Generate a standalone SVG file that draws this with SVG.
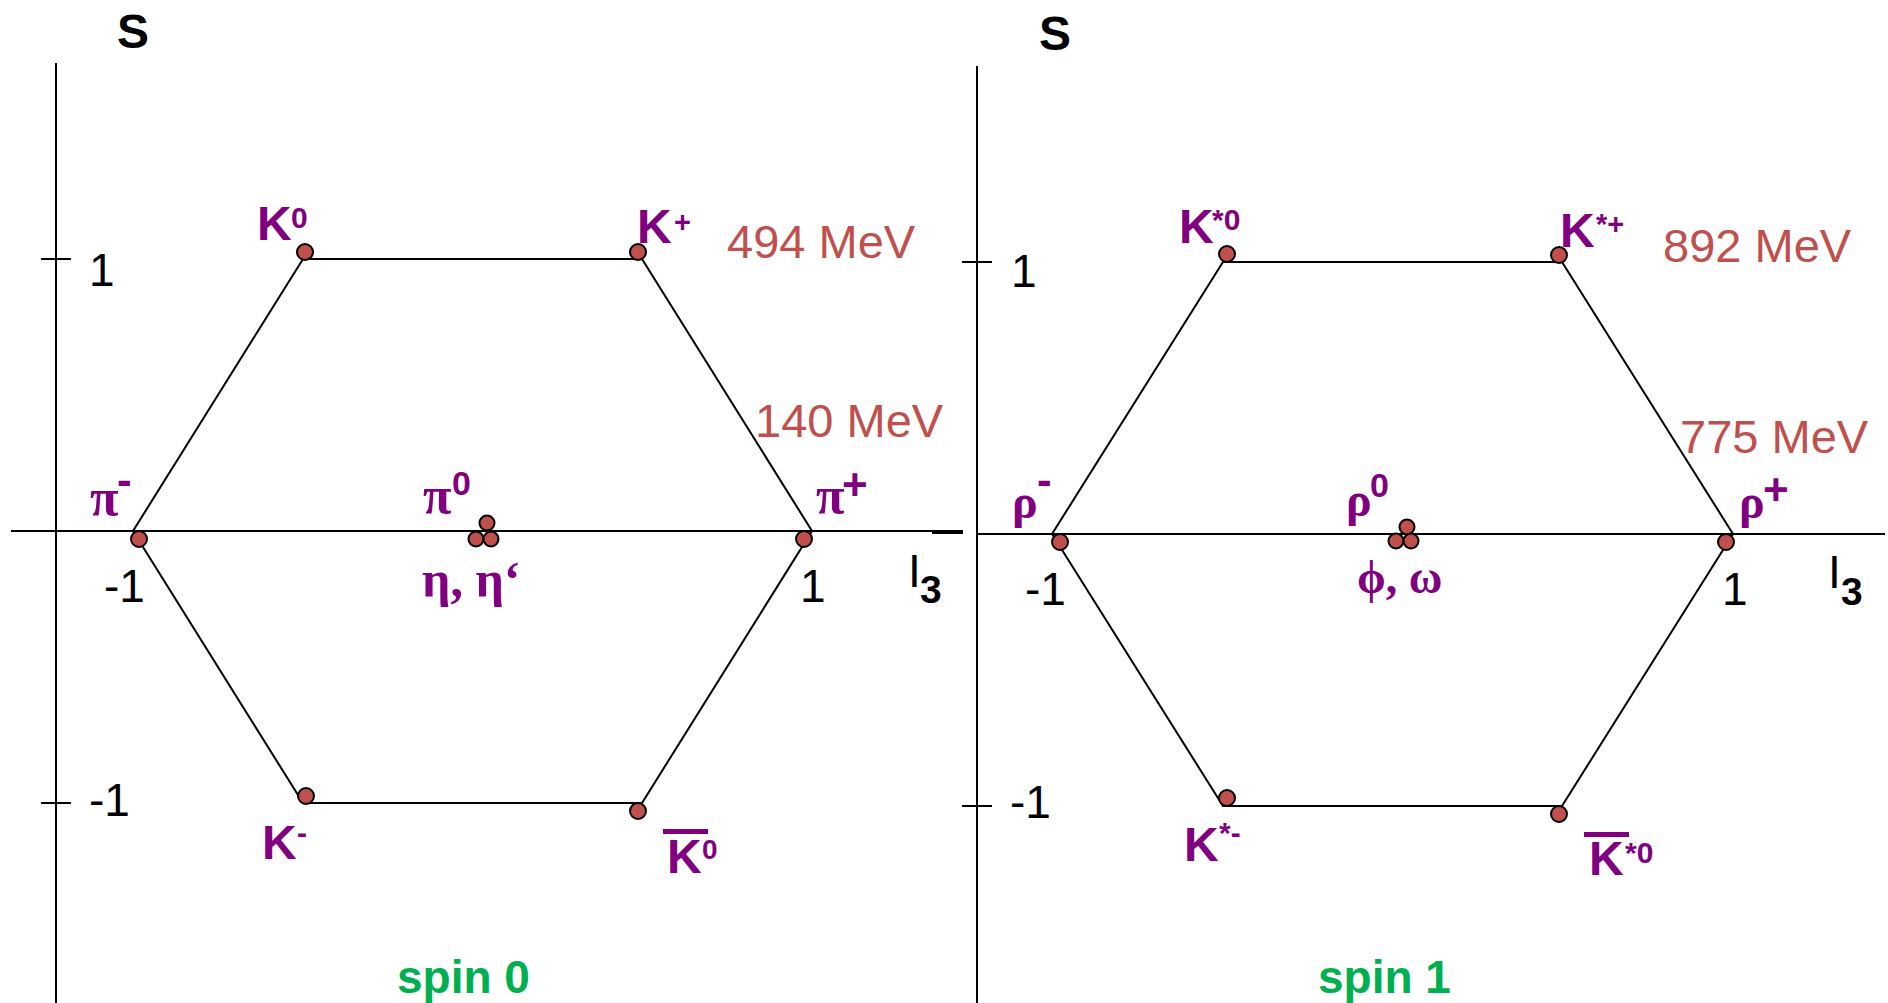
<svg xmlns="http://www.w3.org/2000/svg" width="1888" height="1003" viewBox="0 0 1888 1003">
<style>
.axis{stroke:#000;stroke-width:2;fill:none}
.edge{stroke:#000;stroke-width:2;fill:none}
.dot{fill:#c0504d;stroke:#000;stroke-width:2}
.num{font-family:"Liberation Sans",Arial,sans-serif;font-size:46px;fill:#000}
.axl{font-family:"Liberation Sans",Arial,sans-serif;font-weight:bold;fill:#000}
.lbl{font-family:"Liberation Sans",Arial,sans-serif;font-weight:bold;fill:#800080}
.gr{font-family:"Liberation Serif","DejaVu Serif",serif;font-weight:bold;fill:#800080}
.mass{font-family:"Liberation Sans",Arial,sans-serif;font-size:47px;fill:#c0504d}
.spin{font-family:"Liberation Sans",Arial,sans-serif;font-weight:bold;font-size:46px;fill:#00b050}
</style>
<rect width="1888" height="1003" fill="#fff"/>

<g id="axes-left">
<line class="axis" x1="56" y1="63" x2="56" y2="1003"/>
<line class="axis" x1="11" y1="531" x2="963" y2="531"/>
<line class="axis" x1="932" y1="533" x2="963" y2="533"/>
<line class="axis" x1="41" y1="259" x2="71" y2="259"/>
<line class="axis" x1="41" y1="803" x2="71" y2="803"/>
<text class="axl" x="117" y="48" font-size="48">S</text>
<text class="num" x="89" y="286">1</text>
<text class="num" x="104" y="602">-1</text>
<text class="num" x="89" y="816">-1</text>
<text class="num" x="800" y="602">1</text>
<text class="num" x="908" y="587">I</text>
<text class="axl" x="920" y="603" font-size="39">3</text>
</g>

<g id="axes-right">
<line class="axis" x1="977" y1="66" x2="977" y2="1003"/>
<line class="axis" x1="977" y1="534" x2="1885" y2="534"/>
<line class="axis" x1="962" y1="262" x2="992" y2="262"/>
<line class="axis" x1="962" y1="806" x2="992" y2="806"/>
<text class="axl" x="1039" y="50" font-size="48">S</text>
<text class="num" x="1011" y="287">1</text>
<text class="num" x="1025" y="605">-1</text>
<text class="num" x="1010" y="818">-1</text>
<text class="num" x="1722" y="605">1</text>
<text class="num" x="1828" y="588">I</text>
<text class="axl" x="1841" y="605" font-size="39">3</text>
</g>

<g id="connectors">
<polygon class="edge" points="133,531 303,259 642,259 812,531 642,803 303,803"/>
<polygon class="edge" points="1052,534 1223,262 1562,262 1733,534 1562,806 1223,806"/>
</g>

<g id="K0">
<circle class="dot" cx="305" cy="252" r="8"/>
<text class="lbl" x="257" y="240" font-size="48">K</text>
<text class="lbl" x="291" y="228" font-size="30">0</text>
</g>
<g id="Kplus">
<circle class="dot" cx="638" cy="252" r="8"/>
<text class="lbl" x="637" y="243" font-size="48">K</text>
<text class="lbl" x="674" y="232" font-size="29">+</text>
</g>
<g id="piplus">
<circle class="dot" cx="804" cy="539" r="8"/>
<text class="gr" x="816" y="513" font-size="52">π</text>
<text class="lbl" x="842" y="500" font-size="44">+</text>
</g>
<g id="piminus">
<circle class="dot" cx="139" cy="539" r="8"/>
<text class="gr" x="90" y="515" font-size="52">π</text>
<text class="lbl" x="117" y="495" font-size="44">-</text>
</g>
<g id="Kminus">
<circle class="dot" cx="306" cy="796" r="8"/>
<text class="lbl" x="262" y="859" font-size="48">K</text>
<text class="lbl" x="297" y="843" font-size="30">-</text>
</g>
<g id="K0bar">
<circle class="dot" cx="638" cy="811" r="8"/>
<rect x="663" y="829" width="45" height="5" fill="#800080"/>
<text class="lbl" x="667" y="873" font-size="48">K</text>
<text class="lbl" x="702" y="859" font-size="28">0</text>
</g>
<g id="pi0-eta">
<circle class="dot" cx="487" cy="523" r="7.5"/>
<circle class="dot" cx="476" cy="539" r="7.5"/>
<circle class="dot" cx="491" cy="539" r="7.5"/>
<text class="gr" x="423" y="513" font-size="52">π</text>
<text class="lbl" x="452" y="495" font-size="34">0</text>
<text class="gr" x="422" y="596" font-size="50">η, η‘</text>
</g>
<g id="mass-left">
<text class="mass" x="727" y="258">494 MeV</text>
<text class="mass" x="755" y="437">140 MeV</text>
</g>
<text class="spin" x="397" y="993">spin 0</text>

<g id="Kstar0">
<circle class="dot" cx="1227" cy="254" r="8"/>
<text class="lbl" x="1179" y="243" font-size="48">K</text>
<text class="lbl" x="1212" y="230" font-size="30">*0</text>
</g>
<g id="Kstarplus">
<circle class="dot" cx="1559" cy="255" r="8"/>
<text class="lbl" x="1560" y="247" font-size="48">K</text>
<text class="lbl" x="1596" y="234" font-size="29">*+</text>
</g>
<g id="rhoplus">
<circle class="dot" cx="1726" cy="542" r="8"/>
<text class="gr" x="1739" y="518" font-size="48">ρ</text>
<text class="lbl" x="1763" y="505" font-size="44">+</text>
</g>
<g id="rhominus">
<circle class="dot" cx="1060" cy="542" r="8"/>
<text class="gr" x="1012" y="518" font-size="48">ρ</text>
<text class="lbl" x="1037" y="495" font-size="44">-</text>
</g>
<g id="Kstarminus">
<circle class="dot" cx="1227" cy="798" r="8"/>
<text class="lbl" x="1184" y="861" font-size="48">K</text>
<text class="lbl" x="1219" y="843" font-size="30">*-</text>
</g>
<g id="Kstar0bar">
<circle class="dot" cx="1559" cy="814" r="8"/>
<rect x="1584" y="832" width="45" height="5" fill="#800080"/>
<text class="lbl" x="1589" y="875" font-size="48">K</text>
<text class="lbl" x="1625" y="863" font-size="30">*0</text>
</g>
<g id="rho0-phi-omega">
<circle class="dot" cx="1407" cy="527" r="7.5"/>
<circle class="dot" cx="1396" cy="541" r="7.5"/>
<circle class="dot" cx="1411" cy="541" r="7.5"/>
<text class="gr" x="1346" y="516" font-size="48">ρ</text>
<text class="lbl" x="1370" y="497" font-size="34">0</text>
<text class="gr" x="1357" y="593" font-size="46">ϕ, ω</text>
</g>
<g id="mass-right">
<text class="mass" x="1663" y="262">892 MeV</text>
<text class="mass" x="1680" y="453">775 MeV</text>
</g>
<text class="spin" x="1318" y="993">spin 1</text>
</svg>
